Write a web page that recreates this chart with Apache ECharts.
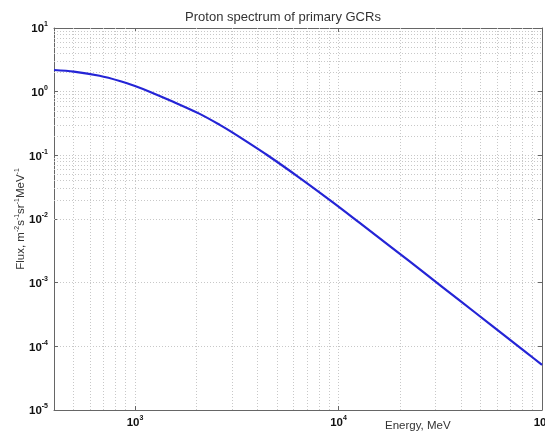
<!DOCTYPE html>
<html>
<head>
<meta charset="utf-8">
<script src="https://cdn.jsdelivr.net/npm/echarts@6/dist/echarts.min.js"></script>
<style>html,body{margin:0;padding:0;background:#fff}#c{width:545px;height:437px}</style>
</head>
<body>
<div id="c"></div>
<script>
const energy = [400, 500, 670, 850, 1000, 1180, 1500, 2080, 2610, 3020, 4440, 6440, 9350, 12670, 18400, 27000, 39200, 56900, 83500, 100000];
const flux = [2.19, 2.07, 1.78, 1.46, 1.23, 1.00, 0.72, 0.448, 0.301, 0.227, 0.102, 0.0443, 0.0184, 0.00875, 0.00349, 0.00135, 0.000531, 0.00021, 0.0000805, 0.0000512];
const xMin = 400, xMax = 100000;
const yMin = 1e-5, yMax = 10;
const titleText = 'Proton spectrum of primary GCRs';
const xName = 'Energy, MeV';

// minor grid values (2..9 x 10^k) inside the ranges
function minorValues(lo, hi) {
  const out = [];
  for (let k = Math.floor(Math.log10(lo)); k <= Math.ceil(Math.log10(hi)); k++) {
    for (let m = 2; m <= 9; m++) {
      const v = m * Math.pow(10, k);
      if (v > lo * 1.0001 && v < hi * 0.9999) out.push(+v.toPrecision(3));
    }
  }
  return out;
}
const xMinor = minorValues(xMin, xMax);
const yMinor = minorValues(yMin, yMax);

const chart = echarts.init(document.getElementById('c'), null, {renderer: 'canvas'});

function powLabel(v) {
  const e = Math.log10(v);
  if (Math.abs(e - Math.round(e)) > 1e-6) return '';
  return '{b|10}{s|' + Math.round(e) + '}';
}
const labelRich = {
  b: {fontFamily: 'Liberation Sans, Arial', fontSize: 11.5, fontWeight: 'bold', color: '#111', lineHeight: 14, verticalAlign: 'bottom'},
  s: {fontFamily: 'Liberation Sans, Arial', fontSize: 7, fontWeight: 'bold', color: '#111', lineHeight: 14, verticalAlign: 'top'}
};
const gridLine = {type: [1, 2], color: '#c8c8c8', width: 1};
const axisLineStyle = {color: '#666', width: 1};

const option = {
  animation: false,
  backgroundColor: '#fff',
  title: {
    text: titleText,
    left: 278, top: 6,
    textAlign: 'center',
    textStyle: {fontFamily: 'Liberation Sans, Arial', fontSize: 13, fontWeight: 'normal', color: '#333'}
  },
  grid: {left: 54, right: 3, top: 28, bottom: 27, containLabel: false, outerBoundsMode: 'none'},
  xAxis: [{
    type: 'log', min: xMin, max: xMax, logBase: 10,
    position: 'bottom',
    axisLine: {show: true, onZero: false, lineStyle: axisLineStyle},
    axisTick: {show: true, inside: true, length: 4, lineStyle: axisLineStyle},
    axisLabel: {show: true, margin: 5, formatter: powLabel, rich: labelRich, showMinLabel: false, hideOverlap: false},
    splitLine: {show: true, lineStyle: gridLine}
  }, {
    type: 'log', min: xMin, max: xMax, logBase: 10,
    position: 'top',
    axisLine: {show: true, onZero: false, lineStyle: axisLineStyle},
    axisTick: {show: true, inside: true, length: 4, lineStyle: axisLineStyle},
    axisLabel: {show: false},
    splitLine: {show: false}
  }],
  yAxis: [{
    type: 'log', min: yMin, max: yMax, logBase: 10,
    position: 'left',
    name: '{t|Flux, m}{u|-2}{t|s}{u|-1}{t|sr}{u|-1}{t|MeV}{u|-1}',
    nameLocation: 'middle', nameRotate: 90, nameGap: 27, nameMoveOverlap: false,
    nameTextStyle: {
      rich: {
        t: {fontFamily: 'Liberation Sans, Arial', fontSize: 11.5, color: '#333', lineHeight: 13, verticalAlign: 'bottom'},
        u: {fontFamily: 'Liberation Sans, Arial', fontSize: 7, color: '#333', lineHeight: 13, verticalAlign: 'top'}
      }
    },
    axisLine: {show: true, onZero: false, lineStyle: axisLineStyle},
    axisTick: {show: true, inside: true, length: 4, lineStyle: axisLineStyle},
    axisLabel: {show: true, margin: 6, formatter: powLabel, rich: labelRich},
    splitLine: {show: true, lineStyle: gridLine}
  }, {
    type: 'log', min: yMin, max: yMax, logBase: 10,
    position: 'right',
    axisLine: {show: true, onZero: false, lineStyle: axisLineStyle},
    axisTick: {show: true, inside: true, length: 4, lineStyle: axisLineStyle},
    axisLabel: {show: false},
    splitLine: {show: false}
  }],
  graphic: [{
    type: 'text', left: 385, top: 420, silent: true,
    style: {text: xName, font: '11.5px "Liberation Sans", Arial', fill: '#333'}
  }],
  series: [{
    type: 'line', name: 'grid', xAxisIndex: 0, yAxisIndex: 0, z: 1,
    data: [], silent: true,
    markLine: {
      silent: true, symbol: ['none', 'none'], animation: false,
      label: {show: false},
      lineStyle: gridLine,
      emphasis: {disabled: true},
      data: xMinor.map(v => ({xAxis: v})).concat(yMinor.map(v => ({yAxis: v})))
    }
  }, {
    type: 'line', name: 'Proton flux', xAxisIndex: 0, yAxisIndex: 0, z: 5,
    data: energy.map((e, i) => [e, flux[i]]),
    showSymbol: false, symbol: 'none', smooth: 0.3,
    lineStyle: {color: '#2424d6', width: 2.2},
    clip: true
  }]
};
chart.setOption(option);
</script>
</body>
</html>
